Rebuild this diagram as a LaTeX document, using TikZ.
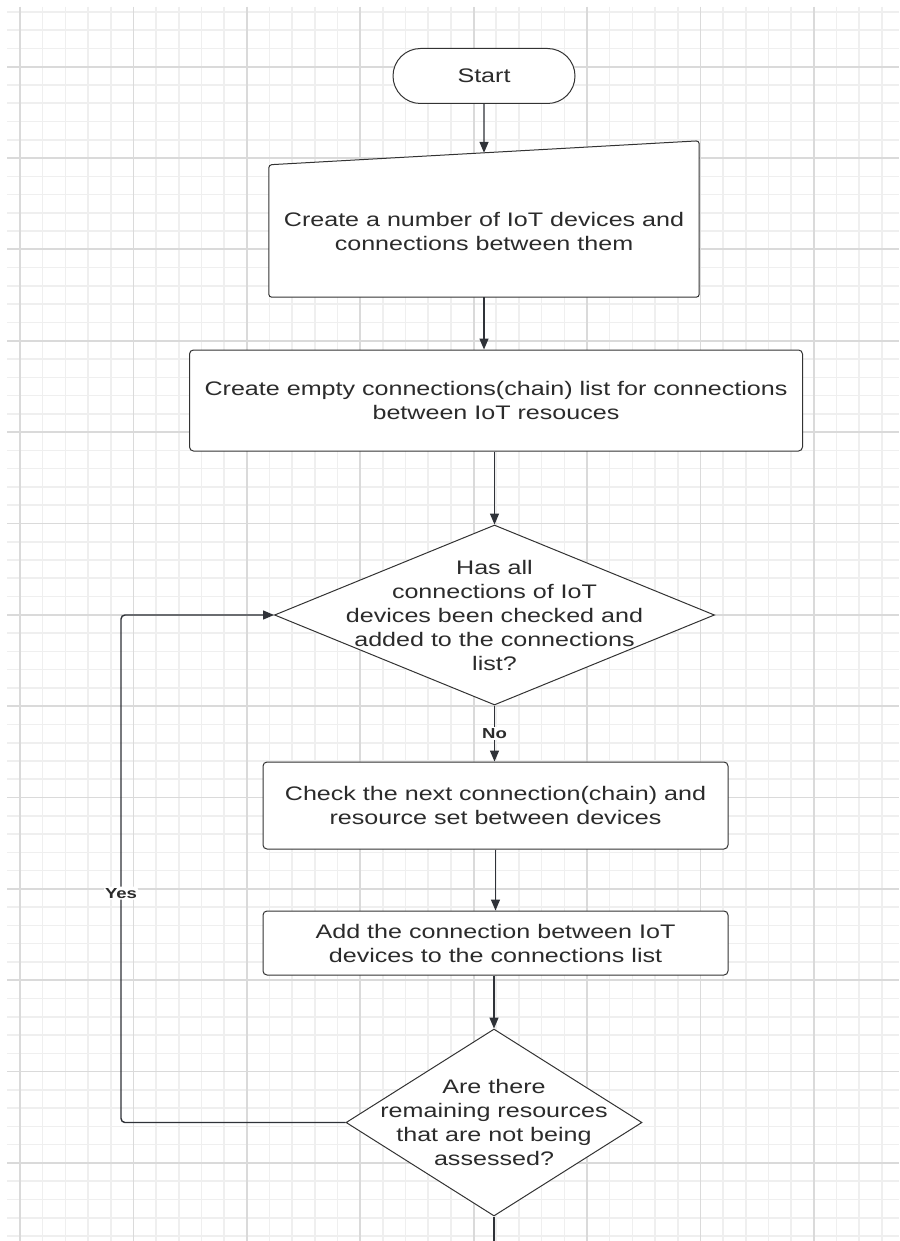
\documentclass[tikz,border=0pt]{standalone}
\usepackage{fontspec}
\setmainfont{Liberation Sans}[FakeStretch=1.28]
\usepackage{xcolor}
\usepackage{tikz}
\usetikzlibrary{arrows.meta, shapes.geometric, shapes.misc, calc, backgrounds}

\definecolor{inkline}{HTML}{333333}
\definecolor{inkarrow}{HTML}{2F3238}
\definecolor{inktext}{HTML}{2B2B2B}
\definecolor{gridlight}{HTML}{EFEFEF}
\definecolor{griddark}{HTML}{DADADA}

\begin{document}
\begin{tikzpicture}[x=1pt, y=-1pt,
    every node/.style={font=\fontsize{19.6}{24}\selectfont, text=inktext},
    gridminor/.style={draw=gridlight, line width=1.6pt},
    gridmajor/.style={draw=griddark, line width=1.8pt},
    term/.style={rounded rectangle, draw=inkline, line width=1pt, fill=white,
        minimum width=182pt, minimum height=55pt, inner sep=0pt},
    proc/.style={rectangle, rounded corners=4pt, draw=inkline, line width=1pt,
        fill=white, align=center, inner sep=0pt},
    manual/.style={rectangle, align=center, inner sep=0pt,
        minimum width=430pt, minimum height=132pt},
    decision/.style={diamond, draw=inkline, line width=1pt, fill=white,
        align=center, inner xsep=-110pt, inner ysep=-50pt},
    flow/.style={-{Triangle[length=11pt, width=9pt]}, draw=inkarrow, line width=1.4pt},
    lbl/.style={font=\fontsize{14.5}{17}\selectfont\bfseries, fill=white, inner sep=1.5pt}
]
\useasboundingbox (0,0) rectangle (899,1241);

% flowchart steps
\node[term] (start) at (484,76) {Start};
\node[manual] (input) at (484,231) {Create a number of IoT devices and\\connections between them};
\coordinate (intop) at ($(input.north west)!0.5!([yshift=24pt]input.north east)$);
\node[proc, minimum width=613pt, minimum height=101pt] (chain) at (496,400.5)
  {Create empty connections(chain) list for connections\\between IoT resouces};
\node[decision, minimum width=440pt, minimum height=180pt] (checked) at (494.5,615)
  {Has all\\connections of IoT\\devices been checked and\\added to the connections\\list?};
\node[proc, minimum width=465pt, minimum height=87pt] (next) at (495.5,805.5)
  {Check the next connection(chain) and\\resource set between devices};
\node[proc, minimum width=465pt, minimum height=64pt] (add) at (495.5,943)
  {Add the connection between IoT\\devices to the connections list};
\node[decision, minimum width=296pt, minimum height=187pt] (remain) at (494,1122.5)
  {Are there\\remaining resources\\that are not being\\assessed?};
\coordinate (loopx) at (121,0);
\coordinate (exit) at (494,1241);

\begin{scope}[on background layer]
% background grid
\fill[white] (0,0) rectangle (899,1241);
\foreach \i in {0,...,38}
  \draw[gridminor] ({20+\i*22.68},7) -- ({20+\i*22.68},1241);
\foreach \j in {0,...,67}
  \draw[gridminor] (7,{11.9+\j*18.27}) -- (899,{11.9+\j*18.27});
\foreach \i in {0,...,7}
  \draw[gridmajor] ({20+\i*113.4},7) -- ({20+\i*113.4},1241);
\foreach \j in {0,...,12}
  \draw[gridmajor] (7,{66.7+\j*91.35}) -- (899,{66.7+\j*91.35});
% manual input outline
\draw[inkline, fill=white, line width=1pt, rounded corners=3pt]
  (input.south west) -- (input.north west)
  -- ([yshift=24pt]input.north east) -- (input.south east) -- cycle;
\end{scope}

% connectors
\draw[flow] (start.south) -- (intop);
\draw[flow] (input.south) -- (input.south |- chain.north);
\draw[flow] (checked.north |- chain.south) -- (checked.north);
\draw[flow] (checked.south) -- node[lbl] {No} (checked.south |- next.north);
\draw[flow] (next.south) -- (add.north);
\draw[flow] (remain.north |- add.south) -- (remain.north);
\draw[flow, rounded corners=4pt] (remain.west) -- (remain.west -| loopx)
  |- node[lbl, pos=0.226] {Yes} (checked.west);
\draw[draw=inkarrow, line width=1.4pt] (remain.south) -- (exit);
\end{tikzpicture}
\end{document}
